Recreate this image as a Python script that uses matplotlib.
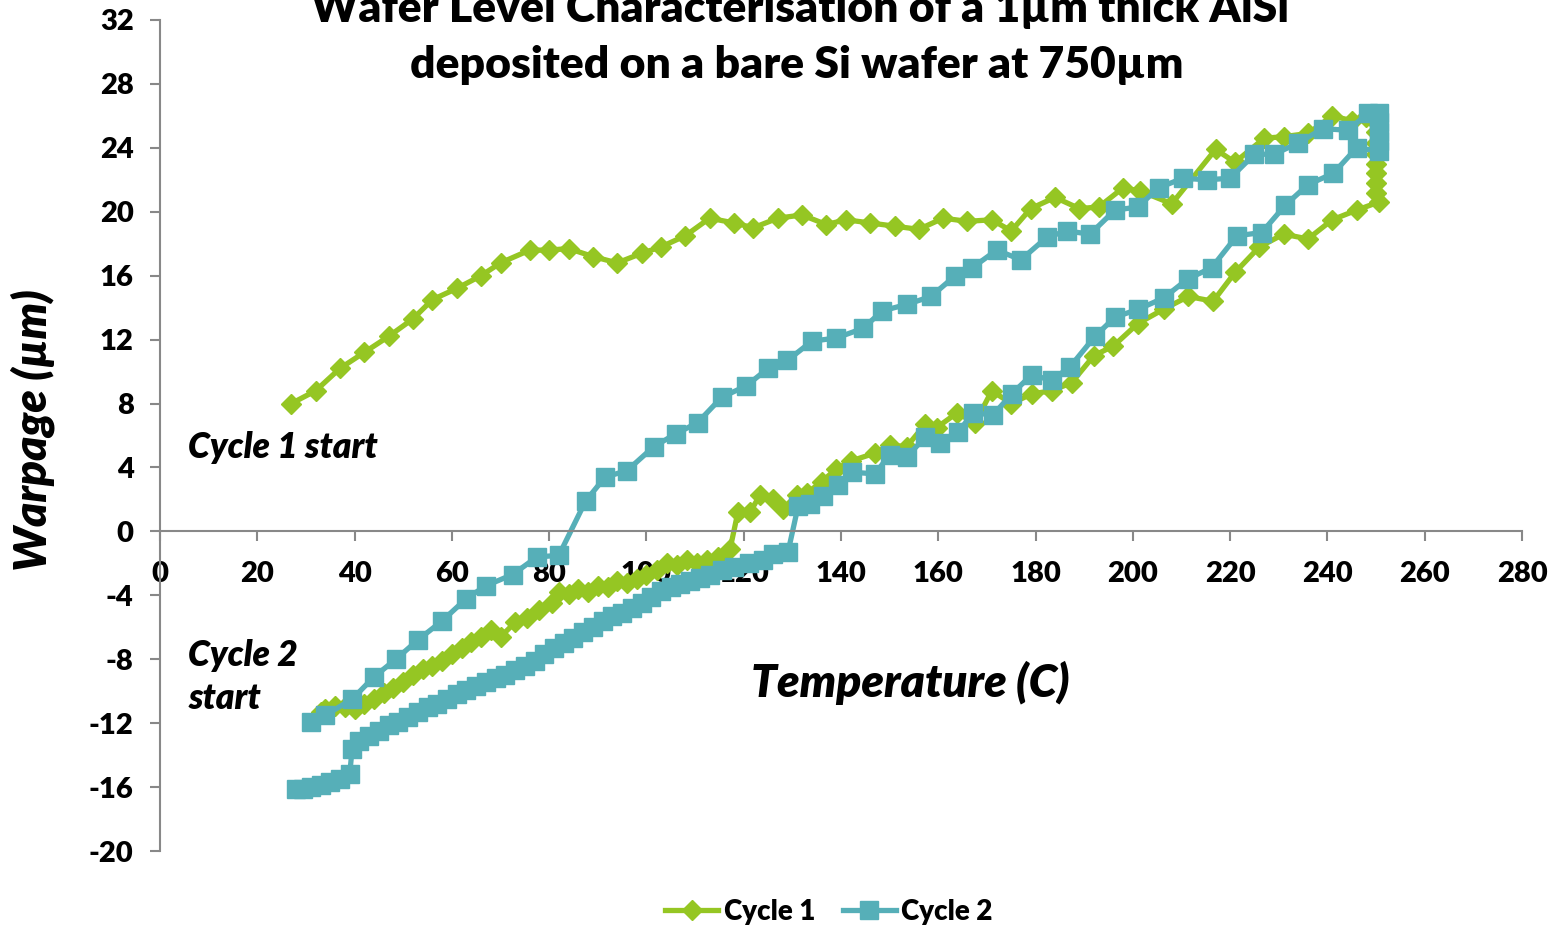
import matplotlib.pyplot as plt

# Cycle 1: heating (upper path) then cooling (lower path)
c1_temp = [27, 32, 37, 42, 47, 52, 56, 61, 66, 70, 76, 80, 84, 89, 94, 99, 103, 108,
           113, 118, 122, 127, 132, 137, 141, 146, 151, 156, 161, 166, 171, 175, 179,
           184, 189, 193, 198, 201.5, 208, 217, 221, 227, 231, 236, 241, 245, 248,
           250, 250, 250, 250, 250, 250, 250, 250,
           250.5, 246, 241, 236, 231, 226, 221, 216.5, 211.4, 206.3, 201, 196, 192,
           187.4, 183.3, 179.2, 175, 171, 167.6, 163.8, 159.7, 157.3, 153.5, 150, 147, 142,
           139, 136, 133, 131, 128, 126, 123.4, 121.3, 118.8, 117.2, 114.7, 112.5, 110.4,
           108.3, 106.3, 104.2, 102.2, 100, 98, 96, 94, 92, 90, 88, 86, 84, 82, 80.5, 78,
           75.5, 73, 70, 68, 66, 64, 62, 60, 58, 56, 54, 52, 50, 48, 46, 44, 42, 40, 38,
           36, 34, 33]
c1_warp = [8.0, 8.8, 10.2, 11.2, 12.2, 13.3, 14.5, 15.2, 16.0, 16.8, 17.6, 17.6, 17.7,
           17.2, 16.8, 17.4, 17.8, 18.5, 19.6, 19.3, 19.0, 19.6, 19.8, 19.2, 19.5, 19.3,
           19.1, 18.9, 19.6, 19.4, 19.5, 18.8, 20.2, 20.9, 20.2, 20.3, 21.5, 21.3, 20.5,
           23.9, 23.1, 24.6, 24.7, 24.9, 26.0, 25.7, 25.9,
           25.6, 25.0, 24.3, 23.6, 23.0, 22.4, 21.8, 21.2,
           20.6, 20.1, 19.5, 18.3, 18.6, 17.8, 16.2, 14.4, 14.7, 13.9, 13.0, 11.6, 11.0,
           9.3, 8.8, 8.6, 8.0, 8.8, 6.8, 7.4, 6.5, 6.7, 5.3, 5.4, 4.9, 4.4,
           3.9, 3.1, 2.4, 2.3, 1.4, 2.0, 2.3, 1.2, 1.2, -1.1, -1.6, -1.8, -2.0,
           -1.8, -2.1, -2.0, -2.4, -2.7, -3.0, -3.2, -3.1, -3.5, -3.4, -3.8, -3.6, -3.9,
           -3.8, -4.5, -4.9, -5.4, -5.7, -6.6, -6.2, -6.6, -6.9, -7.3, -7.7, -8.1, -8.4,
           -8.6, -9.0, -9.4, -9.8, -10.1, -10.5, -10.8, -11.1, -11.0, -10.9, -11.1, -11.3]

# Cycle 2: heating (middle path) then cooling (lowest path)
c2_temp = [31, 34, 39.5, 44, 48.5, 53, 58, 63, 67, 72.5, 77.5, 82, 87.5, 91.5, 96, 101.5,
           106, 110.5, 115.5, 120.5, 125, 129, 134, 139, 144.5, 148.5, 153.5, 158.5, 163.5,
           167, 172, 177, 182.3, 186.4, 191.2, 196.3, 201, 205.3, 210.3, 215.2, 220, 225,
           229, 234, 239, 244.3, 248.4, 250.5,
           250.5, 250.5, 250.5, 250.5,
           246, 241.2, 236, 231.3, 226.5, 221.4, 216.2, 211.3, 206.3, 201.1, 196.3, 192.2,
           187.1, 183.3, 179.2, 175.1, 171.3, 167.2, 164, 160.4, 157.3, 153.5, 150, 147,
           142.3, 139.4, 136.3, 133.6, 131.2, 129.1, 126, 124, 121, 118, 115.5, 113, 111,
           109, 107, 105, 103, 101, 99, 97, 95, 93, 91, 89, 87, 85, 83, 81, 79, 77, 75, 73,
           71, 69, 67, 65, 63, 61, 59, 57, 55, 53, 51, 49, 47, 45, 43, 41, 39.5, 39, 37,
           35, 33, 31, 29.5, 28]
c2_warp = [-11.9, -11.5, -10.5, -9.1, -8.0, -6.8, -5.6, -4.2, -3.4, -2.7, -1.6, -1.5, 1.9,
           3.4, 3.8, 5.3, 6.1, 6.8, 8.4, 9.1, 10.2, 10.7, 11.9, 12.1, 12.7, 13.8, 14.2,
           14.7, 16.0, 16.5, 17.6, 17.0, 18.4, 18.8, 18.6, 20.1, 20.3, 21.5, 22.1, 22.0,
           22.1, 23.6, 23.6, 24.3, 25.2, 25.1, 26.2, 26.2,
           25.6, 25.0, 24.4, 23.8,
           24.0, 22.4, 21.7, 20.4, 18.7, 18.5, 16.5, 15.8, 14.6, 13.9, 13.4, 12.2,
           10.3, 9.45, 9.8, 8.6, 7.3, 7.4, 6.2, 5.5, 5.9, 4.65, 4.8, 3.6,
           3.7, 2.9, 2.2, 1.7, 1.6, -1.3, -1.4, -1.8, -2.0, -2.2, -2.4, -2.7, -2.9,
           -3.1, -3.3, -3.5, -3.7, -4.1, -4.5, -4.8, -5.1, -5.3, -5.6, -6.0, -6.3, -6.7,
           -7.0, -7.3, -7.7, -8.1, -8.4, -8.7, -9.0, -9.2, -9.4, -9.7, -9.9, -10.2, -10.5,
           -10.8, -11.0, -11.3, -11.6, -11.9, -12.1, -12.5, -12.8, -13.1, -13.6, -15.2,
           -15.5, -15.7, -15.9, -16.0, -16.1, -16.1]

x_ticks = list(range(0, 281, 20))
y_ticks = list(range(-20, 33, 4))

green = '#95C623'
teal = '#56AFB8'
axis_grey = '#888888'

plt.rcParams['font.family'] = ['Lato', 'DejaVu Sans']
plt.rcParams['font.weight'] = 'bold'
plt.rcParams['axes.unicode_minus'] = False

fig = plt.figure(figsize=(15.51, 9.27), dpi=100)
ax = fig.add_axes([160 / 1551, 76 / 927, 1362 / 1551, 831 / 927])

ax.plot(c1_temp, c1_warp, color=green, lw=3.8, marker='D', ms=10,
        mec=green, mfc=green, label='Cycle 1')
ax.plot(c2_temp, c2_warp, color=teal, lw=3.8, marker='s', ms=13.5,
        mec=teal, mfc=teal, label='Cycle 2')

ax.set_xlim(0, 280)
ax.set_ylim(-20, 32)
ax.set_xticks(x_ticks)
ax.set_yticks(y_ticks)

for side in ['top', 'right']:
    ax.spines[side].set_visible(False)
ax.spines['bottom'].set_position(('data', 0))
for side in ['left', 'bottom']:
    ax.spines[side].set_color(axis_grey)
    ax.spines[side].set_linewidth(1.5)
ax.tick_params(axis='both', direction='out', length=7, width=1.5, color=axis_grey,
               labelsize=21)
ax.tick_params(axis='x', pad=14)
ax.tick_params(axis='y', pad=12)
for lab in ax.get_xticklabels() + ax.get_yticklabels():
    lab.set_fontweight('heavy')

# title, first line partly off the top as in the source
fig.text(800 / 1551, 1 - 22 / 927, 'Wafer Level Characterisation of a 1µm thick AlSi',
         ha='center', va='baseline', fontsize=32, fontweight='heavy')
fig.text(797 / 1551, 1 - 78 / 927, 'deposited on a bare Si wafer at 750µm',
         ha='center', va='baseline', fontsize=32, fontweight='heavy')

fig.text(910 / 1551, 1 - 697 / 927, 'Temperature (C)', ha='center', va='baseline',
         fontsize=33, fontweight='heavy', style='italic')
fig.text(33 / 1551, 1 - 430 / 927, 'Warpage (µm)', ha='center', va='center',
         rotation=90, fontsize=33, fontweight='heavy', style='italic')

ax.text(5.8, 4.6, 'Cycle 1 start', ha='left', va='baseline', fontsize=25.5,
        fontweight='heavy', style='italic')
ax.text(5.8, -8.4, 'Cycle 2', ha='left', va='baseline', fontsize=25.5,
        fontweight='heavy', style='italic')
ax.text(5.8, -11.1, 'start', ha='left', va='baseline', fontsize=25.5,
        fontweight='heavy', style='italic')

fig.legend(loc='center', bbox_to_anchor=(829 / 1551, 1 - 912 / 927), ncol=2,
           frameon=False, prop={'size': 20, 'weight': 'heavy'}, handlelength=1.9,
           handletextpad=0.2, columnspacing=1.0, borderaxespad=0)

fig.savefig('out.png', dpi=100)
